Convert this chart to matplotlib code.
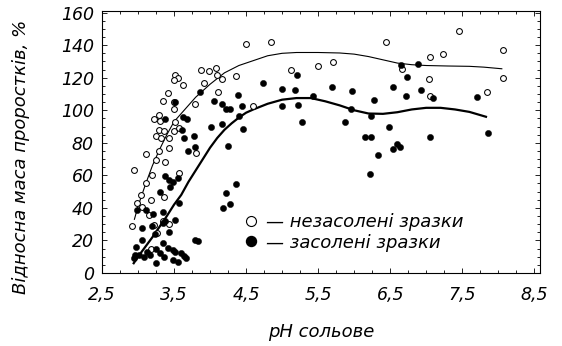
import numpy as np
import matplotlib
matplotlib.use("Agg")
import matplotlib.pyplot as plt
from matplotlib.lines import Line2D
from matplotlib.ticker import MultipleLocator

plt.rcParams["font.family"] = ["DejaVu Sans"]
plt.rcParams["font.style"] = "oblique"

# незасолені зразки (pH, відносна маса %)
ph_fresh = [2.94, 3.11, 3.25, 3.25, 3.29, 3.36, 3.32, 3.43, 3.50, 3.57,
            3.22, 3.29, 3.30, 3.52, 3.34, 3.41, 3.50, 3.50, 3.52, 3.55,
            3.50, 3.62, 3.43, 3.29, 3.38, 3.57, 3.20, 3.11, 3.04, 3.18,
            3.36, 2.99, 3.06, 3.15, 2.92, 3.22, 3.27, 3.43, 3.34, 3.18,
            3.80, 3.79, 3.87, 3.92, 3.99, 4.08, 4.10, 4.11, 4.17, 4.36,
            4.59, 4.50, 4.85, 5.13, 5.50, 5.71, 6.44, 6.66, 7.05, 7.04,
            7.05, 7.23, 7.46, 7.84, 8.06, 8.06]
mass_fresh = [63, 73, 69.5, 84, 88, 87, 83, 83, 87, 89,
              94.6, 97.2, 93.5, 92.5, 105.4, 110.6, 104.8, 100.7, 121.8, 120,
              118.5, 115.7, 76.7, 74.7, 68.5, 61.3, 60.3, 55.2, 48, 45,
              47, 42.9, 40.8, 35.7, 28.9, 29.5, 24.4, 30.2, 32.2, 14.6,
              73.6, 103.8, 125, 117, 124.3, 126, 121.8, 111, 119.4, 120.8,
              102.8, 141, 142, 125, 127, 129.6, 141.7, 125.5, 109, 119.4,
              132.7, 134.6, 148.5, 111, 120, 137]

# засолені зразки
ph_salt = [4.74, 5.00, 5.18, 5.20, 5.69, 5.97, 6.28, 5.43, 5.00, 5.22,
           5.27, 5.88, 5.96, 6.24, 6.15, 6.24, 6.33, 6.22, 6.65, 6.89,
           6.74, 6.54, 6.93, 6.72, 7.10, 7.70, 6.49, 7.05, 7.86, 6.60,
           6.63, 6.54, 4.39, 4.45, 4.40, 4.46, 4.25, 4.17, 4.02, 4.06,
           4.17, 4.22, 4.28, 3.86, 3.63, 3.68, 3.61, 3.64, 3.78, 3.79,
           3.70, 4.22, 4.28, 4.18, 4.36, 3.79, 3.83, 3.57, 3.38, 3.52,
           3.38, 3.43, 3.48, 3.45, 3.55, 3.31, 2.99, 3.11, 3.21, 3.34,
           3.06, 3.20, 3.34, 3.38, 3.52, 3.43, 3.06, 3.23, 2.97, 2.96,
           3.01, 3.08, 3.13, 3.25, 3.34, 3.30, 3.41, 3.48, 3.52, 3.59,
           3.64, 3.67, 3.25, 3.36, 3.48, 3.55, 3.16, 2.94]
mass_salt = [117, 113, 112.6, 121.4, 114.3, 111.6, 106.5, 108.5, 102.8, 103.4,
             92.5, 92.5, 100.9, 96.2, 83.5, 83.5, 72.6, 61, 128, 128.6,
             120.2, 114, 112.2, 108.5, 107.5, 108, 89.6, 83.5, 86, 79.4,
             77.7, 76.3, 109.5, 102.4, 96.6, 88.4, 78.3, 91.7, 90, 105.8,
             103.8, 100.7, 100.7, 111, 95.6, 94.8, 88, 82.8, 84, 77.7,
             74.7, 49, 42.3, 40.2, 54.8, 20.3, 19.5, 42.9, 94.8, 105,
             59.3, 57.2, 56.2, 53.1, 58.3, 50, 39, 38.8, 36, 37.7,
             27.5, 28.9, 30.6, 32, 32.6, 25.4, 20.3, 24, 16.2, 11,
             11, 10, 13, 14.6, 18.3, 12, 15.2, 14.2, 13.1, 12.1,
             10.5, 9, 6, 10, 8, 6.5, 11, 9]

# лінії тренду
ph_fit_fresh = [2.95, 3.0, 3.1, 3.2, 3.3, 3.4, 3.5, 3.6, 3.7, 3.8, 3.9, 4.0,
                4.2, 4.4, 4.6, 4.8, 5.0, 5.2, 5.5, 5.8, 6.0, 6.2, 6.4, 6.6,
                6.8, 7.0, 7.3, 7.6, 7.8, 8.05]
mass_fit_fresh = [33, 41, 54, 66, 76, 85, 93, 98, 103, 108, 112, 116,
                  123, 127.5, 130.5, 133.5, 135, 135.5, 135.5, 135.2, 134.5, 133, 131, 129,
                  128, 127.5, 127.2, 127, 126.5, 125.5]
ph_fit_salt = [2.94, 3.0, 3.2, 3.4, 3.5, 3.6, 3.7, 3.8, 3.9, 4.0, 4.1, 4.2,
               4.3, 4.4, 4.5, 4.6, 4.8, 5.0, 5.2, 5.4, 5.6, 5.8, 6.0, 6.2,
               6.4, 6.6, 6.8, 7.0, 7.2, 7.4, 7.6, 7.83]
mass_fit_salt = [6, 10, 22, 35, 42, 48, 56, 63, 70, 77, 83, 88,
                 92, 95.5, 98.5, 100.5, 104, 106.5, 107.5, 107.5, 105.5, 103, 100, 98,
                 97.8, 98.8, 100.5, 101.5, 101.5, 100.5, 99, 96]

x_ticks = [2.5, 3.5, 4.5, 5.5, 6.5, 7.5, 8.5]
x_tick_labels = ["2,5", "3,5", "4,5", "5,5", "6,5", "7,5", "8,5"]
y_ticks = [0, 20, 40, 60, 80, 100, 120, 140, 160]

fig = plt.figure(figsize=(5.62, 3.46), dpi=100)
ax = fig.add_axes([102 / 562, 1 - 273 / 346, 438 / 562, 262 / 346])

ax.plot(ph_fresh, mass_fresh, "o", ls="none", ms=4.2, mfc="white",
        mec="black", mew=0.75, zorder=3)
ax.plot(ph_salt, mass_salt, "o", ls="none", ms=4.5, mfc="black",
        mec="black", mew=0.3, zorder=4)
ax.plot(ph_fit_fresh, mass_fit_fresh, color="black", lw=0.8, zorder=2)
ax.plot(ph_fit_salt, mass_fit_salt, color="black", lw=1.6, zorder=2)

ax.set_xlim(2.5, 8.58)
ax.set_ylim(0, 161)
ax.set_xticks(x_ticks)
ax.set_xticklabels(x_tick_labels)
ax.set_yticks(y_ticks)
ax.xaxis.set_minor_locator(MultipleLocator(0.25))
ax.yaxis.set_minor_locator(MultipleLocator(5))
ax.tick_params(which="both", direction="in", top=True, right=True,
               width=0.6, colors="black")
ax.tick_params(which="major", length=3.5, labelsize=12.5)
ax.tick_params(which="minor", length=2)
ax.tick_params(axis="x", pad=9)
ax.tick_params(axis="y", pad=6)
for sp in ax.spines.values():
    sp.set_linewidth(0.8)

fig.text(21.5 / 562, 1 - 157 / 346, "Відносна маса проростків, %",
         rotation=90, ha="center", va="center", fontsize=13)
fig.text(321 / 562, 1 - 332 / 346, "pH сольове",
         ha="center", va="center", fontsize=13)

handles = [
    Line2D([], [], marker="o", ls="none", ms=7.2, mfc="white", mec="black", mew=0.8),
    Line2D([], [], marker="o", ls="none", ms=7.2, mfc="black", mec="black"),
]
ax.legend(handles, ["— незасолені зразки", "— засолені зразки"],
          loc="upper left", bbox_to_anchor=(244 / 562, 1 - 213 / 346),
          bbox_transform=fig.transFigure, frameon=False, fontsize=13,
          handlelength=0.8, handletextpad=0.4, labelspacing=0.15,
          borderpad=0, borderaxespad=0)

fig.savefig("out.png", dpi=100)
